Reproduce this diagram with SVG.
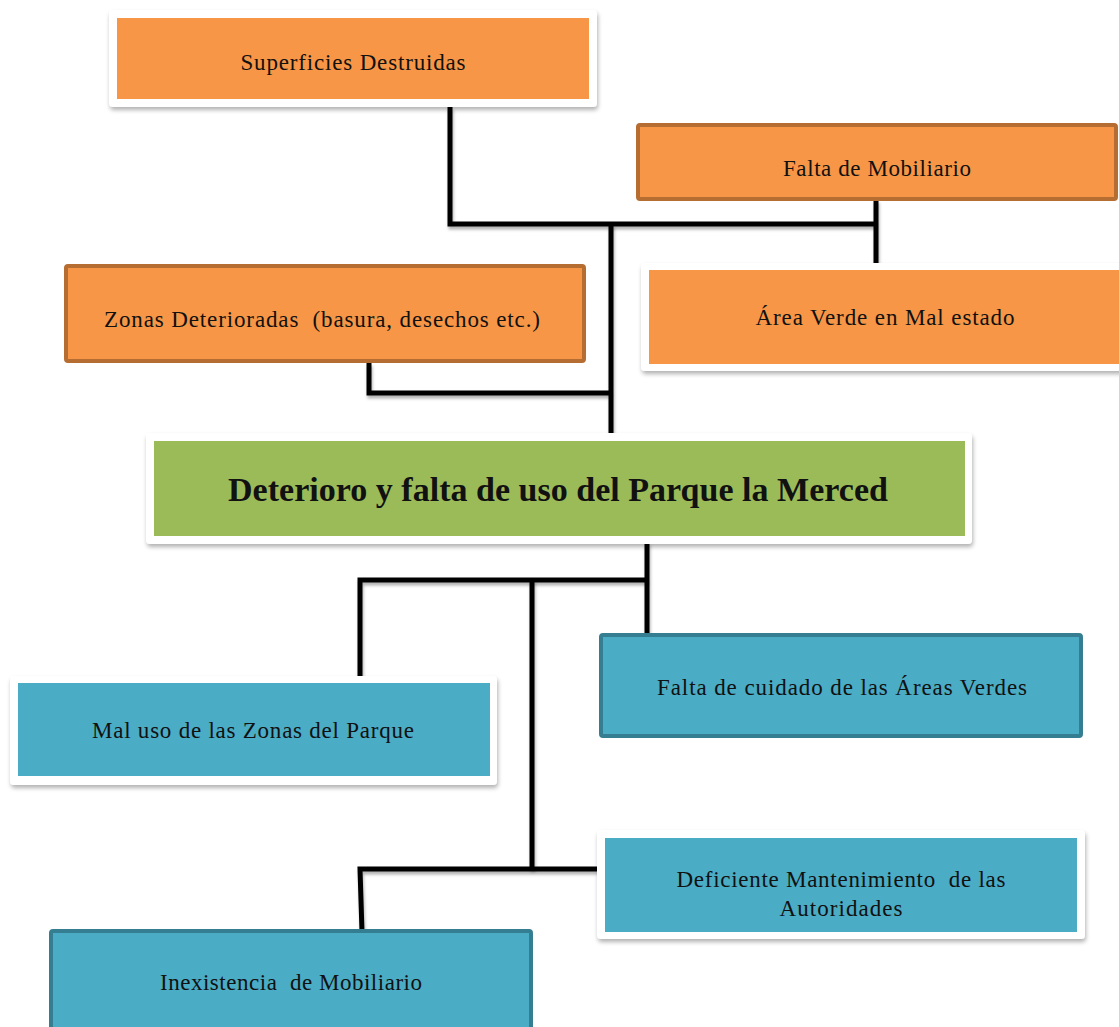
<svg xmlns="http://www.w3.org/2000/svg" width="1119" height="1027" viewBox="0 0 1119 1027">
<defs>
<filter id="sh" filterUnits="userSpaceOnUse" x="0" y="0" width="1119" height="1027">
<feDropShadow dx="1" dy="3" stdDeviation="2" flood-color="#000" flood-opacity="0.3"/>
</filter>
<filter id="lsh" filterUnits="userSpaceOnUse" x="0" y="0" width="1119" height="1027">
<feDropShadow dx="1" dy="3" stdDeviation="1.5" flood-color="#000" flood-opacity="0.3"/>
</filter>
</defs>
<style>
.frame{fill:#fff;filter:url(#sh)}
.or{fill:#f79646}
.orb{fill:#f79646;stroke:#b66d31;stroke-width:4}
.gr{fill:#9bbb59}
.bl{fill:#4bacc6}
.blb{fill:#4bacc6;stroke:#357d91;stroke-width:4}
.t{font-family:"Liberation Serif","DejaVu Serif",serif;font-size:23px;fill:#111;text-anchor:middle}
.title{font-family:"Liberation Serif","DejaVu Serif",serif;font-size:33px;font-weight:bold;fill:#111;text-anchor:middle}
.c{fill:none;stroke:#000;stroke-width:5;filter:url(#lsh)}
</style>
<g id="connectors">
<path class="c" d="M450,107 V224 H876"/>
<path class="c" d="M876,200 V266"/>
<path class="c" d="M611,224 V440"/>
<path class="c" d="M369,363 V393 H611"/>
<path class="c" d="M647,542 V633"/>
<path class="c" d="M360,683 V580 H647"/>
<path class="c" d="M532,580 V869"/>
<path class="c" d="M600,869 H360 L362,932"/>
</g>
<g id="superficies">
<rect class="frame" x="109" y="10" width="488" height="97" rx="4"/>
<rect class="or" x="117" y="18" width="472" height="81"/>
<text class="t" x="353" y="70" textLength="225">Superficies Destruidas</text>
</g>
<g id="falta-mobiliario">
<rect class="orb" x="638" y="125" width="478" height="74" rx="2"/>
<text class="t" x="877" y="176" textLength="188">Falta de Mobiliario</text>
</g>
<g id="area-verde">
<rect class="frame" x="641" y="263" width="490" height="108" rx="4"/>
<rect class="or" x="649" y="270" width="470" height="94"/>
<text class="t" x="885" y="325" textLength="259">Área Verde en Mal estado</text>
</g>
<g id="zonas">
<rect class="orb" x="66" y="266" width="518" height="95" rx="2"/>
<text class="t" x="322" y="327" textLength="436" xml:space="preserve">Zonas Deterioradas  (basura, desechos etc.)</text>
</g>
<g id="central">
<rect class="frame" x="146" y="433" width="826" height="111" rx="4"/>
<rect class="gr" x="154" y="441" width="811" height="95"/>
<text class="title" x="558" y="501" textLength="660" lengthAdjust="spacingAndGlyphs">Deterioro y falta de uso del Parque la Merced</text>
</g>
<g id="mal-uso">
<rect class="frame" x="10" y="676" width="487" height="109" rx="4"/>
<rect class="bl" x="18" y="683" width="472" height="93"/>
<text class="t" x="253" y="738" textLength="322">Mal uso de las Zonas del Parque</text>
</g>
<g id="falta-cuidado">
<rect class="blb" x="601" y="635" width="480" height="101" rx="2"/>
<text class="t" x="842" y="695" textLength="370">Falta de cuidado de las Áreas Verdes</text>
</g>
<g id="deficiente">
<rect class="frame" x="597" y="830" width="488" height="109" rx="4"/>
<rect class="bl" x="605" y="838" width="472" height="94"/>
<text class="t" x="841" y="887" textLength="329" xml:space="preserve">Deficiente Mantenimiento  de las</text>
<text class="t" x="841" y="916" textLength="123">Autoridades</text>
</g>
<g id="inexistencia">
<rect class="blb" x="51" y="931" width="480" height="110" rx="2"/>
<text class="t" x="291" y="990" textLength="262" xml:space="preserve">Inexistencia  de Mobiliario</text>
</g>
</svg>
